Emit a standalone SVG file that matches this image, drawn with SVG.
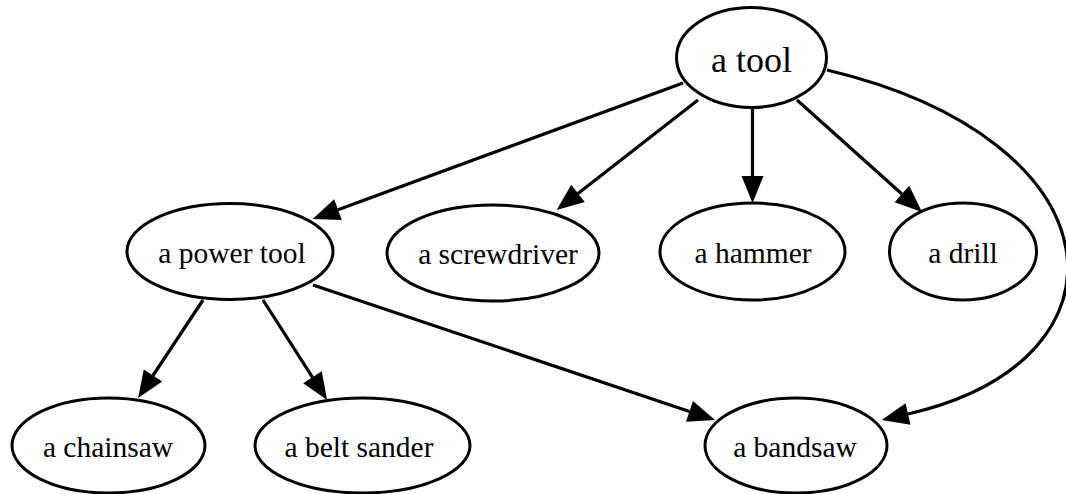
<svg xmlns="http://www.w3.org/2000/svg" width="1066" height="494" viewBox="0 0 1066 494">
  <style>
    .node ellipse { fill: #ffffff; stroke: #000000; stroke-width: 3; }
    .node text { font-family: "Liberation Serif", "Times New Roman", serif; font-size: 29.5px; fill: #000000; text-anchor: middle; }
    #n_tool text { font-size: 36px; }
    .edges path { fill: none; stroke: #000000; stroke-width: 3.2; marker-end: url(#arrow); }
  </style>
  <defs>
    <!-- filled triangular arrowhead; the path ends at its base -->
    <marker id="arrow" markerUnits="userSpaceOnUse" markerWidth="30" markerHeight="24" viewBox="0 -12 30 24" refX="0" refY="0" orient="auto" overflow="visible">
      <path d="M0,-11 L27,0 L0,11 z" fill="#000000"/>
    </marker>
  </defs>
  <rect width="1066" height="494" fill="#ffffff"/>

  <g class="edges">
    <path d="M683,83 L338,209.7"/>
    <path d="M698,100 L578,193.4"/>
    <path d="M752.5,108 L752.5,176"/>
    <path d="M797,100 L901.9,194"/>
    <path d="M827,70 C1122,140 1142,360 908,414"/>
    <path d="M203,300 L153,375.5"/>
    <path d="M263,300 L312.5,377.3"/>
    <path d="M313,285 L689.5,411.4"/>
  </g>

  <g id="n_tool" class="node">
    <ellipse cx="751.5" cy="57.5" rx="75" ry="50"/>
    <text x="751.5" y="72">a tool</text>
  </g>
  <g id="n_power_tool" class="node">
    <ellipse cx="230" cy="251.5" rx="103" ry="48"/>
    <text x="232" y="263">a power tool</text>
  </g>
  <g id="n_screwdriver" class="node">
    <ellipse cx="493" cy="253" rx="106" ry="48"/>
    <text x="498" y="264">a screwdriver</text>
  </g>
  <g id="n_hammer" class="node">
    <ellipse cx="752.5" cy="251.5" rx="92.5" ry="48.5"/>
    <text x="753" y="263">a hammer</text>
  </g>
  <g id="n_drill" class="node">
    <ellipse cx="963" cy="251.5" rx="73.5" ry="48.5"/>
    <text x="963" y="263">a drill</text>
  </g>
  <g id="n_chainsaw" class="node">
    <ellipse cx="108.5" cy="445.5" rx="96.5" ry="47.5"/>
    <text x="108" y="457">a chainsaw</text>
  </g>
  <g id="n_belt_sander" class="node">
    <ellipse cx="362.5" cy="445.5" rx="107.5" ry="47.5"/>
    <text x="359" y="457">a belt sander</text>
  </g>
  <g id="n_bandsaw" class="node">
    <ellipse cx="796" cy="445.5" rx="91" ry="47.5"/>
    <text x="795" y="457">a bandsaw</text>
  </g>
</svg>
